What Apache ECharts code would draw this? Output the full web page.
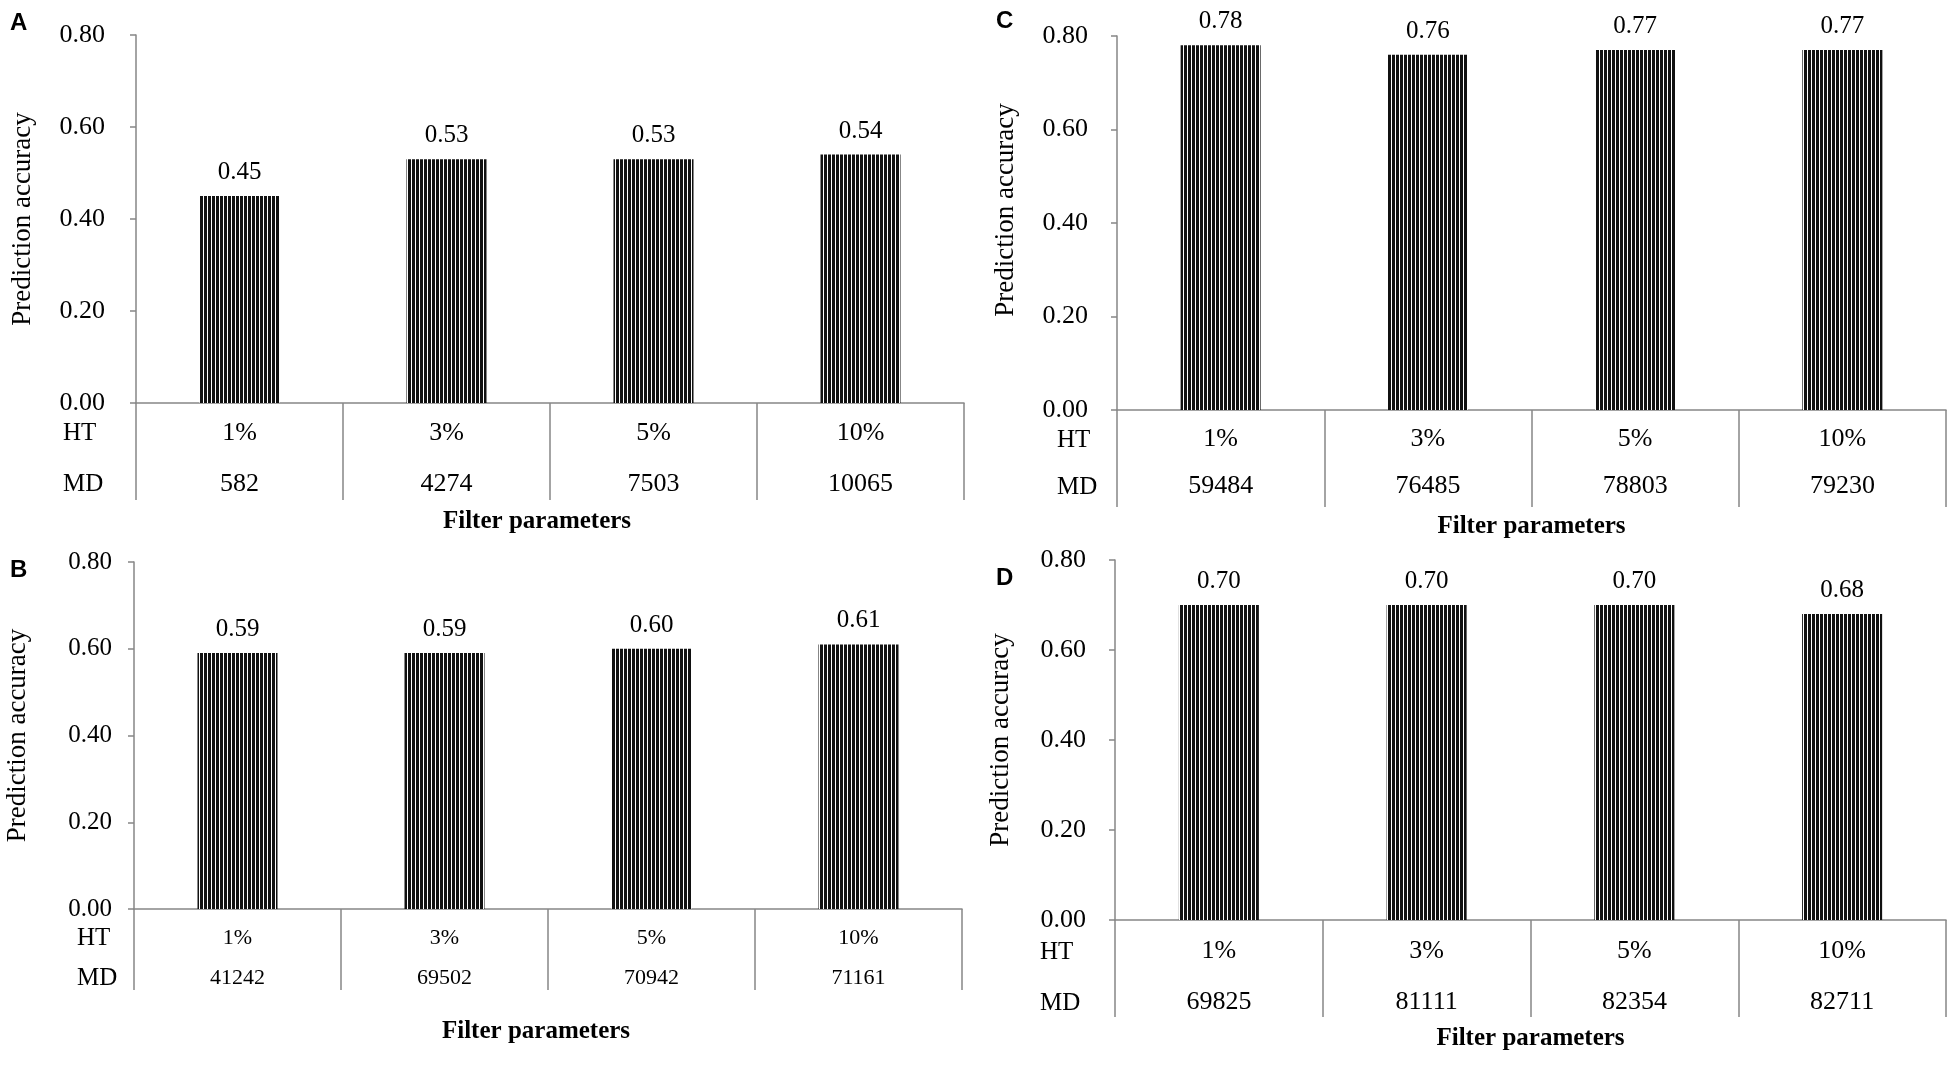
<!DOCTYPE html>
<html>
<head>
<meta charset="utf-8">
<script src="https://cdn.jsdelivr.net/npm/echarts@6/dist/echarts.min.js"></script>
<style>
    html, body { margin: 0; padding: 0; background: #fff; }
    #chart { width: 1950px; height: 1070px; }
</style>
</head>
<body>
<div id="chart"></div>
<script>
// filter thresholds (HT row) shared by all four panels
var htLabels = ['1%', '3%', '5%', '10%'];

// prediction accuracy per panel
var accA = [0.45, 0.53, 0.53, 0.54];
var accB = [0.59, 0.59, 0.60, 0.61];
var accC = [0.78, 0.76, 0.77, 0.77];
var accD = [0.70, 0.70, 0.70, 0.68];

// number of markers (MD row) per panel
var mdA = [582, 4274, 7503, 10065];
var mdB = [41242, 69502, 70942, 71161];
var mdC = [59484, 76485, 78803, 79230];
var mdD = [69825, 81111, 82354, 82711];

var serif = '"Liberation Serif", "Times New Roman", serif';
var axisColor = '#868686';

// vertical stripe fill for the bars
var stripe = document.createElement('canvas');
stripe.width = 4;
stripe.height = 4;
var sctx = stripe.getContext('2d');
sctx.fillStyle = '#ffffff';
sctx.fillRect(0, 0, 4, 4);
sctx.fillStyle = '#111111';
sctx.fillRect(0, 0, 3, 4);

var panels = [
    { tag: 'A', acc: accA, md: mdA, grid: { left: 136, top: 35, width: 828, height: 368 },
      tagPos: [10, 11], rowX: 63, rowY: [433, 484], lblMargin: 5, lineH: 51, tickLen: 97,
      yMargin: 31, yNameGap: 100, yNamePad: [0, 0, 0, 0], xNameGap: 106, xNamePad: [0, 26, 0, 0],
      tickFont: 26, tableFont: 26 },
    { tag: 'B', acc: accB, md: mdB, grid: { left: 134, top: 562, width: 828, height: 347 },
      tagPos: [10, 558], rowX: 77, rowY: [938, 978], lblMargin: 9, lineH: 40, tickLen: 81,
      yMargin: 22, yNameGap: 103, yNamePad: [0, 0, 0, 0], xNameGap: 110, xNamePad: [0, 24, 0, 0],
      tickFont: 25, tableFont: 22 },
    { tag: 'C', acc: accC, md: mdC, grid: { left: 1117, top: 36, width: 829, height: 374 },
      tagPos: [996, 9], rowX: 1057, rowY: [440, 487], lblMargin: 6, lineH: 47, tickLen: 97,
      yMargin: 29, yNameGap: 98, yNamePad: [0, 0, 0, 26], xNameGap: 104, xNamePad: [0, 0, 0, 0],
      tickFont: 26, tableFont: 26 },
    { tag: 'D', acc: accD, md: mdD, grid: { left: 1115, top: 560, width: 831, height: 360 },
      tagPos: [996, 566], rowX: 1040, rowY: [952, 1003], lblMargin: 6, lineH: 51, tickLen: 97,
      yMargin: 29, yNameGap: 101, yNamePad: [0, 0, 0, 0], xNameGap: 106, xNamePad: [0, 0, 0, 0],
      tickFont: 26, tableFont: 26 }
];

var grids = [], xAxes = [], yAxes = [], series = [], titles = [], texts = [];

panels.forEach(function (p, i) {
    var g = p.grid;
    grids.push({ left: g.left, top: g.top, width: g.width, height: g.height, outerBoundsMode: 'none' });

    titles.push({
        text: p.tag, left: p.tagPos[0], top: p.tagPos[1], padding: 0,
        textStyle: { fontFamily: '"Liberation Sans", Arial, sans-serif', fontSize: 24, fontWeight: 'bold', color: '#000' }
    });

    xAxes.push({
        gridIndex: i,
        type: 'category',
        data: htLabels,
        axisLine: { show: true, lineStyle: { color: axisColor, width: 1.5 } },
        axisTick: { show: true, length: p.tickLen, lineStyle: { color: axisColor, width: 1.5 } },
        splitLine: { show: false },
        axisLabel: {
            interval: 0,
            margin: p.lblMargin,
            formatter: function (value, idx) {
                return '{ht|' + value + '}\n{md|' + p.md[idx] + '}';
            },
            rich: {
                ht: { fontFamily: serif, fontSize: p.tableFont, lineHeight: p.lineH, color: '#000' },
                md: { fontFamily: serif, fontSize: p.tableFont, lineHeight: p.lineH, color: '#000' }
            }
        },
        name: 'Filter parameters',
        nameLocation: 'middle',
        nameGap: p.xNameGap,
        nameMoveOverlap: false,
        nameTextStyle: { fontFamily: serif, fontSize: 25, fontWeight: 'bold', color: '#000', padding: p.xNamePad }
    });

    yAxes.push({
        gridIndex: i,
        type: 'value',
        min: 0,
        max: 0.8,
        interval: 0.2,
        axisLine: { show: true, lineStyle: { color: axisColor, width: 1.5 } },
        axisTick: { show: true, length: 6, lineStyle: { color: axisColor, width: 1.5 } },
        splitLine: { show: false },
        axisLabel: {
            margin: p.yMargin,
            fontFamily: serif,
            fontSize: p.tickFont,
            color: '#000',
            formatter: function (v) { return v.toFixed(2); }
        },
        name: 'Prediction accuracy',
        nameLocation: 'middle',
        nameRotate: 90,
        nameGap: p.yNameGap,
        nameMoveOverlap: false,
        nameTextStyle: { fontFamily: serif, fontSize: 27, color: '#000', padding: p.yNamePad }
    });

    series.push({
        type: 'bar',
        xAxisIndex: i,
        yAxisIndex: i,
        data: p.acc,
        barWidth: 80,
        silent: true,
        itemStyle: { color: { image: stripe, repeat: 'repeat' } },
        label: {
            show: true,
            position: 'top',
            distance: 11,
            fontFamily: serif,
            fontSize: 25,
            color: '#000',
            formatter: function (prm) { return prm.value.toFixed(2); }
        }
    });

    // row headers of the little table under each axis
    ['HT', 'MD'].forEach(function (t, k) {
        texts.push({
            type: 'text',
            x: p.rowX,
            y: p.rowY[k],
            silent: true,
            style: { text: t, fontFamily: serif, fontSize: 25, fill: '#000', align: 'left', verticalAlign: 'middle' }
        });
    });
});

var chart = echarts.init(document.getElementById('chart'));
var option = {
    animation: false,
    backgroundColor: '#fff',
    title: titles,
    grid: grids,
    xAxis: xAxes,
    yAxis: yAxes,
    series: series,
    graphic: texts
};
chart.setOption(option);
</script>
</body>
</html>
